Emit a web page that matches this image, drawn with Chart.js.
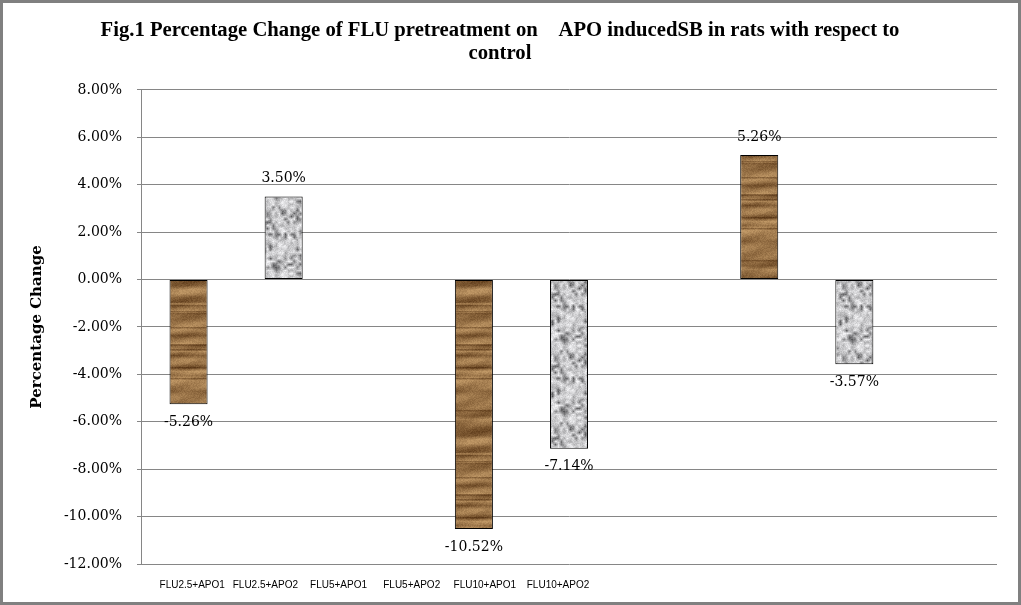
<!DOCTYPE html>
<html>
<head>
<meta charset="utf-8">
<script src="https://cdn.jsdelivr.net/npm/chart.js@4.4.1/dist/chart.umd.min.js"></script>
<style>
  html, body { margin: 0; padding: 0; background: #fff; }
  #frame { width: 1021px; height: 605px; box-sizing: border-box; border: 3px solid #808080; background: #fff; }
  canvas { display: block; }
</style>
</head>
<body>
<div id="frame"><canvas id="fig-chart" width="1015" height="599"></canvas></div>
<script>
// groups on the hidden category axis, one brown (APO1) and one grey (APO2) bar each
const groups = ['FLU2.5', 'FLU5', 'FLU10'];
const apo1Change = [-5.26, -10.52, 5.26];
const apo2Change = [3.50, -7.14, -3.57];
const spareSeries = [null, null, null];

// labels printed under the plot
const xLabels = ['FLU2.5+APO1', 'FLU2.5+APO2', 'FLU5+APO1', 'FLU5+APO2', 'FLU10+APO1', 'FLU10+APO2'];
const yTicks = [8, 6, 4, 2, 0, -2, -4, -6, -8, -10, -12];

const titleLines = [
    'Fig.1 Percentage Change of FLU pretreatment on    APO inducedSB in rats with respect to',
    'control'
];

const wideFont = 'DejaVu Serif, DejaVu Sans';

function makeRandom(seed) {
    let s = seed;
    return function () {
        s = (s * 1103515245 + 12345) & 0x7fffffff;
        return s / 0x7fffffff;
    };
}

// wood grain fill for the APO1 bars
function woodTile() {
    const w = 48, h = 150;
    const tile = document.createElement('canvas');
    tile.width = w;
    tile.height = h;
    const g = tile.getContext('2d');
    const img = g.createImageData(w, h);
    const rnd = makeRandom(11);
    const knots = [];
    for (let k = 0; k < h / 4; k++) knots.push(0.25 + rnd() * 0.7);
    knots.push(knots[0]);
    const rows = [];
    for (let y = 0; y < h; y++) {
        const k = Math.floor(y / 4), f = (y % 4) / 4;
        rows.push(knots[k] * (1 - f) + knots[k + 1] * f);
    }
    for (let n = 0; n < 10; n++) {
        const y = Math.floor(rnd() * h);
        rows[y] *= 0.5;
        if (y + 1 < h) rows[y + 1] *= 0.75;
    }
    const dark = [88, 54, 22], light = [192, 152, 102];
    for (let y = 0; y < h; y++) {
        for (let x = 0; x < w; x++) {
            let t = rows[y] + (rnd() - 0.5) * 0.22 + 0.1 * Math.sin((x * 0.8 + y * 2.3) / 6);
            t = Math.max(0, Math.min(1, t));
            const i = (y * w + x) * 4;
            for (let c = 0; c < 3; c++) img.data[i + c] = dark[c] + (light[c] - dark[c]) * t;
            img.data[i + 3] = 255;
        }
    }
    g.putImageData(img, 0, 0);
    return tile;
}

// speckled granite fill for the APO2 bars
function graniteTile() {
    const cells = 24, step = 3, w = cells * step;
    const tile = document.createElement('canvas');
    tile.width = w;
    tile.height = w;
    const g = tile.getContext('2d');
    const img = g.createImageData(w, w);
    const rnd = makeRandom(29);
    const grid = [];
    for (let i = 0; i < cells * cells; i++) {
        const v = rnd();
        grid.push(v < 0.2 ? 95 + rnd() * 50 : 170 + rnd() * 70);
    }
    const at = (cx, cy) => grid[((cy + cells) % cells) * cells + ((cx + cells) % cells)];
    for (let y = 0; y < w; y++) {
        for (let x = 0; x < w; x++) {
            const cx = Math.floor(x / step), cy = Math.floor(y / step);
            const fx = (x % step) / step, fy = (y % step) / step;
            let v = at(cx, cy) * (1 - fx) * (1 - fy) + at(cx + 1, cy) * fx * (1 - fy) +
                    at(cx, cy + 1) * (1 - fx) * fy + at(cx + 1, cy + 1) * fx * fy;
            v += (rnd() - 0.5) * 30;
            v = Math.max(60, Math.min(245, v));
            const i = (y * w + x) * 4;
            img.data[i] = v;
            img.data[i + 1] = v;
            img.data[i + 2] = v + 2;
            img.data[i + 3] = 255;
        }
    }
    g.putImageData(img, 0, 0);
    return tile;
}

const valueLabels = {
    id: 'valueLabels',
    afterDatasetsDraw(chart) {
        const ctx = chart.ctx;
        ctx.save();
        ctx.font = '14px ' + wideFont;
        ctx.fillStyle = '#000';
        ctx.textAlign = 'center';
        ctx.textBaseline = 'middle';
        chart.data.datasets.forEach((ds, i) => {
            chart.getDatasetMeta(i).data.forEach((bar, j) => {
                const v = ds.data[j];
                if (v === null || v === undefined) return;
                const y = v < 0 ? bar.y + 18 : bar.y - 18;
                ctx.fillText(v.toFixed(2) + '%', bar.x, y);
            });
        });
        ctx.restore();
    }
};

const canvas = document.getElementById('fig-chart');
const ctx = canvas.getContext('2d');
const woodFill = ctx.createPattern(woodTile(), 'repeat');
const graniteFill = ctx.createPattern(graniteTile(), 'repeat');

const barStyle = {
    borderColor: '#000',
    borderWidth: 1,
    borderSkipped: false,
    categoryPercentage: 1.0,
    barPercentage: 0.4,
    xAxisID: 'x',
    yAxisID: 'y'
};

new Chart(ctx, {
    type: 'bar',
    data: {
        labels: groups,
        datasets: [
            Object.assign({label: 'APO1', data: apo1Change, backgroundColor: woodFill}, barStyle),
            Object.assign({label: 'APO2', data: apo2Change, backgroundColor: graniteFill}, barStyle),
            Object.assign({label: '', data: spareSeries, backgroundColor: '#fff'}, barStyle)
        ]
    },
    options: {
        responsive: false,
        animation: false,
        layout: {padding: {left: 0, right: 21, top: 0, bottom: 0}},
        plugins: {
            legend: {display: false},
            tooltip: {enabled: false},
            title: {
                display: true,
                text: titleLines,
                color: '#000',
                font: {family: 'Liberation Serif', size: 20.7, weight: 'bold', lineHeight: 1.11},
                padding: {top: 16, bottom: 25}
            }
        },
        scales: {
            x: {
                type: 'category',
                display: false
            },
            xl: {
                type: 'linear',
                position: 'bottom',
                offset: false,
                min: -0.7,
                max: 11,
                grid: {display: false, drawTicks: false, offset: false},
                border: {display: false},
                afterBuildTicks: axis => {
                    axis.ticks = xLabels.map((_, i) => ({value: i}));
                },
                afterFit: axis => {
                    axis.height = 38;
                },
                ticks: {
                    color: '#000',
                    padding: 15,
                    maxRotation: 0,
                    autoSkip: false,
                    font: {family: 'Liberation Sans', size: 10},
                    callback: v => xLabels[v]
                }
            },
            y: {
                min: -12,
                max: 8,
                afterBuildTicks: axis => {
                    axis.ticks = yTicks.map(v => ({value: v}));
                },
                afterFit: axis => {
                    axis.width = 138;
                },
                grid: {color: '#868686', tickLength: 4},
                border: {color: '#868686'},
                ticks: {
                    color: '#000',
                    padding: 15,
                    font: {family: wideFont, size: 14},
                    callback: v => v.toFixed(2) + '%'
                },
                title: {
                    display: true,
                    text: 'Percentage Change',
                    color: '#000',
                    font: {family: wideFont, size: 15, weight: 'bold'},
                    padding: {top: 25}
                }
            }
        }
    },
    plugins: [valueLabels]
});
</script>
</body>
</html>
